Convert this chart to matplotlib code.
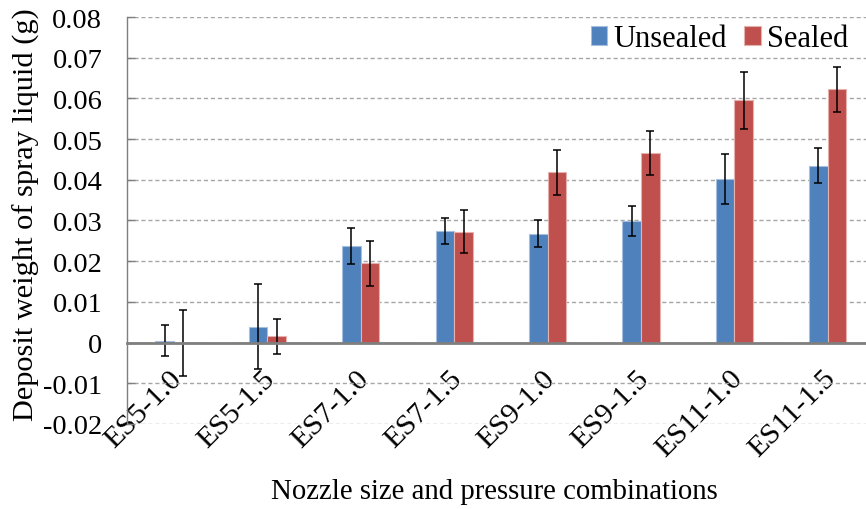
import matplotlib
matplotlib.use("Agg")
import matplotlib.pyplot as plt
import matplotlib.transforms as mtransforms
import numpy as np

plt.rcParams['font.family'] = ['Liberation Serif', 'DejaVu Serif']
plt.rcParams['axes.unicode_minus'] = False

# deposit weight per nozzle / pressure combination (g)
combos = ['ES5-1.0', 'ES5-1.5', 'ES7-1.0', 'ES7-1.5',
          'ES9-1.0', 'ES9-1.5', 'ES11-1.0', 'ES11-1.5']
unsealed = [0.0004, 0.0039, 0.0237, 0.0275, 0.0268, 0.0299, 0.0402, 0.0435]
unsealed_err = [0.0038, 0.0105, 0.0045, 0.0032, 0.0034, 0.0037, 0.0061, 0.0044]
sealed = [0.0, 0.0015, 0.0195, 0.0272, 0.0418, 0.0467, 0.0596, 0.0622]
sealed_err = [0.0081, 0.0043, 0.0055, 0.0053, 0.0056, 0.0054, 0.0070, 0.0056]
yticks = [-0.02, -0.01, 0, 0.01, 0.02, 0.03, 0.04, 0.05, 0.06, 0.07, 0.08]

blue = '#4F81BD'
red = '#C0504D'

fig = plt.figure(figsize=(8.66, 5.10), dpi=100)
ax = fig.add_axes([0.147, 0.1667, 0.8628, 0.798])

x = np.arange(len(combos))
w = 0.2
ax.bar(x - w / 2, unsealed, w, color=blue, edgecolor='#A7BFDE', linewidth=0.8,
       label='Unsealed', zorder=3)
ax.bar(x + w / 2, sealed, w, color=red, edgecolor='#E6B0AE', linewidth=0.8,
       label='Sealed', zorder=3)
ax.errorbar(x - w / 2, unsealed, yerr=unsealed_err, fmt='none', ecolor='black',
            elinewidth=1.1, capsize=3.2, capthick=1.1, zorder=4)
ax.errorbar(x + w / 2, sealed, yerr=sealed_err, fmt='none', ecolor='black',
            elinewidth=1.1, capsize=3.2, capthick=1.1, zorder=4)

ax.set_xlim(-0.5, len(combos) - 0.5)
ax.set_ylim(-0.02, 0.08)
ax.set_yticks(yticks)
ax.set_yticklabels(['%g' % v for v in yticks])
ax.yaxis.grid(True, linestyle=(0, (3, 2)), color='#A6A6A6', linewidth=1.0, zorder=0)
ax.set_axisbelow(True)

for s in ['top', 'right']:
    ax.spines[s].set_visible(False)
ax.spines['bottom'].set_position(('data', 0))
ax.spines['bottom'].set_color('#7F7F7F')
ax.spines['bottom'].set_linewidth(2.0)
ax.spines['bottom'].set_zorder(5)
ax.spines['left'].set_color('#7F7F7F')
ax.spines['left'].set_linewidth(1.0)

ax.tick_params(axis='y', direction='in', length=6, width=1, color='#7F7F7F',
               labelsize=20.5, pad=18)
ax.set_xticks(x)
ax.set_xticklabels(combos, rotation=45, ha='right', va='top', rotation_mode='anchor')
ax.tick_params(axis='x', length=0, labelsize=21.5, pad=16)
# nudge the slanted category labels a little to the left
shift = mtransforms.ScaledTranslation(-4 / 72, 0, fig.dpi_scale_trans)
for lab in ax.get_xticklabels():
    lab.set_transform(lab.get_transform() + shift)

ax.set_ylabel('Deposit weight of spray liquid (g)', fontsize=21.9)
ax.yaxis.set_label_coords(-0.117, 0.516)
ax.set_xlabel('Nozzle size and pressure combinations', fontsize=20.7)
ax.xaxis.set_label_coords(0.491, -0.133)

fig.legend(loc='center right', bbox_to_anchor=(848 / 866, 1 - 40 / 510), ncol=2,
           frameon=False, fontsize=22, handlelength=0.55, handleheight=0.55,
           handletextpad=0.2, columnspacing=0.55, borderpad=0, borderaxespad=0)

fig.savefig('out.png', dpi=100)
